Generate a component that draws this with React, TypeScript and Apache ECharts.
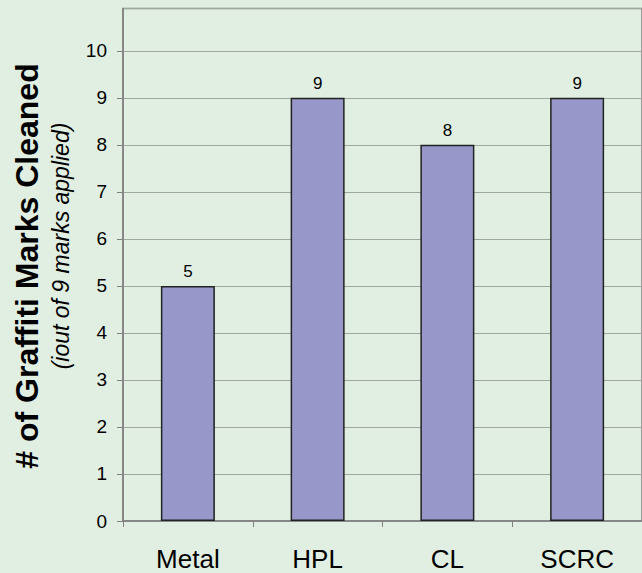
import React, { useEffect, useRef } from "react";
import * as echarts from "echarts";

const categories = ["Metal", "HPL", "CL", "SCRC"];
const cleanedValues = [5, 9, 8, 9];
const yMin = 0;
const yMax = 10.9;
const yInterval = 1;
const titleMain = "# of Graffiti Marks Cleaned";
const titleSub = "(iout of 9 marks applied)";

const FONT = "'Liberation Sans', Arial, sans-serif";

export default function App() {
  const ref = useRef<HTMLDivElement>(null);
  useEffect(() => {
    if (!ref.current) return;
    const chart = echarts.init(ref.current, undefined, { renderer: "svg" });
    chart.setOption({
      animation: false,
      backgroundColor: "#E1EFE2",
      textStyle: { fontFamily: FONT },
      grid: {
        left: 123,
        top: 8.5,
        bottom: 52,
        right: -9,
        show: true,
        borderColor: "#808080",
        borderWidth: 1.5,
        backgroundColor: "transparent",
      },
      xAxis: {
        type: "category",
        data: categories,
        axisLine: { lineStyle: { color: "#808080", width: 1.5 } },
        axisTick: { show: true, length: 6, lineStyle: { color: "#808080" } },
        axisLabel: {
          color: "#000",
          fontSize: 26,
          lineHeight: 26,
          margin: 25,
          fontFamily: FONT,
        },
        splitLine: { show: false },
      },
      yAxis: {
        type: "value",
        min: yMin,
        max: yMax,
        interval: yInterval,
        axisLine: { show: true, lineStyle: { color: "#808080", width: 1.5 } },
        axisTick: { show: true, length: 6, lineStyle: { color: "#808080" } },
        axisLabel: {
          color: "#000",
          fontSize: 19,
          margin: 16,
          fontFamily: FONT,
          showMaxLabel: false,
        },
        splitLine: { show: true, lineStyle: { color: "#9FA89F", width: 1 } },
      },
      series: [
        {
          type: "bar",
          data: cleanedValues,
          barWidth: 54,
          itemStyle: { color: "#9797CA", borderColor: "#222", borderWidth: 1.5 },
          label: {
            show: true,
            position: "top",
            distance: 6,
            color: "#000",
            fontSize: 17,
            fontFamily: FONT,
          },
        },
      ],
      graphic: [
        {
          type: "text",
          x: 27,
          y: 266,
          rotation: Math.PI / 2,
          style: {
            text: titleMain,
            fill: "#000",
            font: `bold 32px ${FONT}`,
            textAlign: "center",
            textVerticalAlign: "middle",
          },
        },
        {
          type: "text",
          x: 61,
          y: 246,
          rotation: Math.PI / 2,
          style: {
            text: titleSub,
            fill: "#000",
            font: `italic 23px ${FONT}`,
            textAlign: "center",
            textVerticalAlign: "middle",
          },
        },
      ],
    });
    return () => chart.dispose();
  }, []);
  return (
    <div
      ref={ref}
      style={{ position: "fixed", left: 0, top: 0, width: 642, height: 573 }}
    />
  );
}
